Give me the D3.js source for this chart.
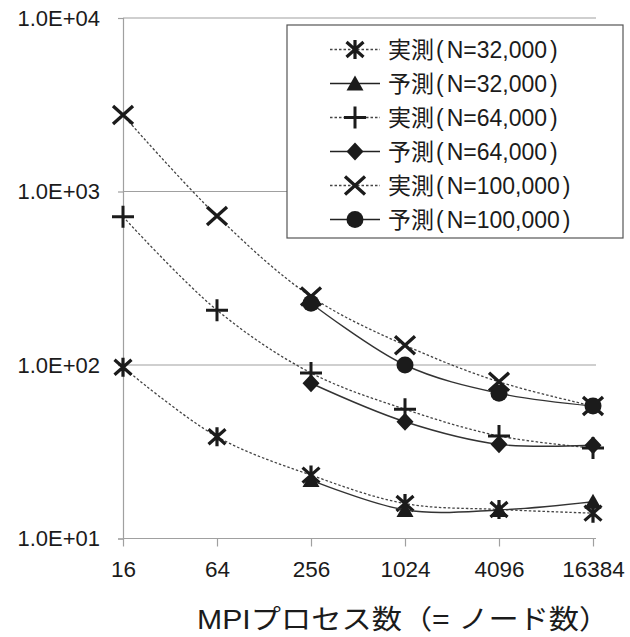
<!DOCTYPE html>
<html>
<head>
<meta charset="utf-8">
<script src="https://cdn.jsdelivr.net/npm/d3@7"></script>
<style>
  body { margin: 0; background: #fff; }
  svg { display: block; }
</style>
</head>
<body>
<div id="chart"></div>
<script>
// values
const procs = [16, 64, 256, 1024, 4096, 16384];
const meas32k = [97, 38.6, 23.2, 15.9, 14.7, 14.0];
const pred32k = [null, null, 21.7, 14.6, 14.6, 16.3];
const meas64k = [716, 207, 90, 55.6, 39, 33.2];
const pred64k = [null, null, 78.5, 47.1, 34.9, 34.5];
const meas100k = [2760, 722, 248, 130, 80, 58];
const pred100k = [null, null, 227, 100, 68.7, 58];
const yTicks = [10, 100, 1000, 10000];

const seriesKind = ["実測", "予測", "実測", "予測", "実測", "予測"];
const seriesN = ["N=32,000", "N=32,000", "N=64,000", "N=64,000", "N=100,000", "N=100,000"];
const seriesValues = [meas32k, pred32k, meas64k, pred64k, meas100k, pred100k];
const seriesMarkers = ["asterisk", "triangle", "plus", "diamond", "cross", "circle"];

const width = 630, height = 637;
const font = "'Liberation Sans', Arial, 'Noto Sans CJK JP', sans-serif";
const ink = "#1b1b1b";
const gridColor = "#a0a0a0";

const svg = d3.select("#chart").append("svg")
    .attr("width", width)
    .attr("height", height)
    .style("font-family", font);

const x = d3.scalePoint().domain(procs).range([123, 593]);
const y = d3.scaleLog().domain([10, 10000]).range([538.5, 18]);

// gridlines
svg.append("g")
    .selectAll("line")
    .data(yTicks.slice(1))
    .join("line")
    .attr("x1", 123).attr("x2", 596)
    .attr("y1", d => y(d)).attr("y2", d => y(d))
    .attr("stroke", gridColor).attr("stroke-width", 1.2);

// axes
const fmt = d => "1.0E+" + String(Math.round(Math.log10(d))).padStart(2, "0");
const yAxis = svg.append("g")
    .attr("transform", "translate(123,0)")
    .call(d3.axisLeft(y).tickValues(yTicks).tickFormat(fmt).tickSize(5).tickPadding(18));
const xAxis = svg.append("g")
    .attr("transform", `translate(0,${y(10)})`)
    .call(d3.axisBottom(x).tickSize(8).tickPadding(14.5));
[yAxis, xAxis].forEach(g => {
    g.select(".domain").attr("stroke", gridColor).attr("stroke-width", 1.2);
    g.selectAll(".tick line").attr("stroke", gridColor).attr("stroke-width", 1.2);
    g.selectAll("text").attr("fill", ink).style("font-family", font);
});
yAxis.selectAll("text").style("font-size", "22px");
xAxis.selectAll("text").style("font-size", "22.5px");
xAxis.select(".domain").attr("d", "M123,0H596");

// marker drawing
function marker(g, type, cx, cy) {
    const s = g.append("g").attr("transform", `translate(${cx},${cy})`);
    if (type === "cross") {
        s.append("path").attr("d", "M-10,-9L10,9M-10,9L10,-9")
            .attr("stroke", ink).attr("stroke-width", 3.3).attr("fill", "none");
    } else if (type === "plus") {
        s.append("path").attr("d", "M-11,0H11M0,-11V11")
            .attr("stroke", ink).attr("stroke-width", 3).attr("fill", "none");
    } else if (type === "asterisk") {
        s.append("path").attr("d", "M-8.5,-7.5L8.5,7.5M-8.5,7.5L8.5,-7.5M0,-9.5V9.5")
            .attr("stroke", ink).attr("stroke-width", 3.2).attr("fill", "none");
    } else if (type === "triangle") {
        s.append("path").attr("d", "M0,-8L8.5,7L-8.5,7Z").attr("fill", ink);
    } else if (type === "diamond") {
        s.append("path").attr("d", "M0,-9L8.5,0L0,9L-8.5,0Z").attr("fill", ink);
    } else if (type === "circle") {
        s.append("circle").attr("r", 8.5).attr("fill", ink);
    }
}

const line = d3.line()
    .x(d => x(d.p))
    .y(d => y(d.v))
    .curve(d3.curveCatmullRom);

seriesValues.forEach((vals, i) => {
    const pts = procs.map((p, j) => ({ p: p, v: vals[j] })).filter(d => d.v != null);
    const dashed = i % 2 === 0;
    const g = svg.append("g");
    g.append("path")
        .datum(pts)
        .attr("d", line)
        .attr("fill", "none")
        .attr("stroke", dashed ? "#444" : "#333")
        .attr("stroke-width", dashed ? 1.3 : 1.4)
        .attr("stroke-dasharray", dashed ? "2.5,2" : null);
    pts.forEach(d => marker(g, seriesMarkers[i], x(d.p), y(d.v)));
});

// legend
const legend = svg.append("g");
legend.append("rect")
    .attr("x", 287).attr("y", 25).attr("width", 336).attr("height", 213)
    .attr("fill", "#fff").attr("stroke", "#555").attr("stroke-width", 1.2);
seriesKind.forEach((kind, i) => {
    const ly = 49.5 + i * 34;
    const dashed = i % 2 === 0;
    const row = legend.append("g");
    row.append("line")
        .attr("x1", 330).attr("x2", 380).attr("y1", ly).attr("y2", ly)
        .attr("stroke", dashed ? "#444" : "#222")
        .attr("stroke-width", dashed ? 1.3 : 1.4)
        .attr("stroke-dasharray", dashed ? "2.5,2" : null);
    marker(row, seriesMarkers[i], 355, ly);
    const t = row.append("text")
        .attr("x", 388).attr("y", ly)
        .attr("dy", "0.36em")
        .attr("fill", ink)
        .style("font-size", "23px");
    t.append("tspan").text(kind);
    t.append("tspan").attr("dx", 2).text("(");
    t.append("tspan").attr("dx", 3).text(seriesN[i]);
    t.append("tspan").attr("dx", 3).text(")");
});

// axis title (glyphs in the original are a little wider than Liberation)
svg.append("text")
    .attr("transform", "translate(197,629) scale(1.12,1)")
    .attr("fill", ink)
    .style("font-size", "27px")
    .text("MPIプロセス数（= ノード数）");
</script>
</body>
</html>
